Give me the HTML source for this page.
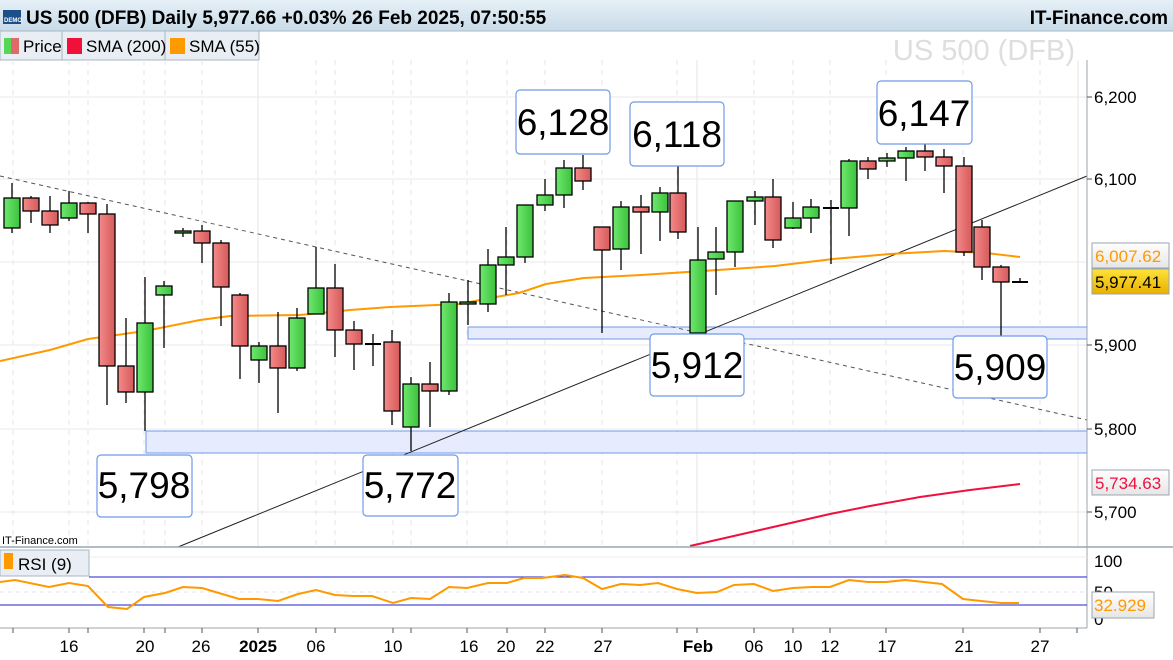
<!DOCTYPE html>
<html><head><meta charset="utf-8"><style>
html,body{margin:0;padding:0;background:#fff;}
body{width:1173px;height:660px;overflow:hidden;position:relative;font-family:"Liberation Sans",Arial,sans-serif;}
svg{position:absolute;left:0;top:0;}
</style></head><body>
<svg width="1173" height="660" viewBox="0 0 1173 660" xmlns="http://www.w3.org/2000/svg" font-family="Liberation Sans, Arial, sans-serif">
<defs>
<linearGradient id="hdr" x1="0" y1="0" x2="0" y2="1"><stop offset="0" stop-color="#e6f0f7"/><stop offset="1" stop-color="#c8dbe8"/></linearGradient>
<linearGradient id="rd" x1="0" y1="0" x2="1" y2="0"><stop offset="0" stop-color="#f48a8a"/><stop offset="1" stop-color="#d65a5a"/></linearGradient>
<linearGradient id="gr" x1="0" y1="0" x2="1" y2="0"><stop offset="0" stop-color="#6ee86e"/><stop offset="1" stop-color="#3cc23c"/></linearGradient>
<linearGradient id="yel" x1="0" y1="0" x2="0" y2="1"><stop offset="0" stop-color="#ffe23a"/><stop offset="1" stop-color="#e8b000"/></linearGradient>
<linearGradient id="gbox" x1="0" y1="0" x2="0" y2="1"><stop offset="0" stop-color="#ffffff"/><stop offset="1" stop-color="#e6e6e6"/></linearGradient>
</defs>
<rect x="0" y="0" width="1173" height="31" fill="url(#hdr)"/>
<line x1="0" y1="31" x2="1173" y2="31" stroke="#a9bac6"/>
<rect x="3" y="10" width="18" height="14" fill="#1c4f8a"/>
<text x="4" y="22" font-size="6" fill="#fff" font-weight="bold">DEMO</text>
<text x="26" y="24" font-size="19" font-weight="bold" fill="#000">US 500 (DFB) Daily 5,977.66 +0.03% 26 Feb 2025, 07:50:55</text>
<text x="1168" y="24" font-size="19" font-weight="bold" fill="#000" text-anchor="end">IT-Finance.com</text>
<rect x="0" y="31" width="259" height="29" fill="#e8eef3" stroke="#a9b6c0"/>
<line x1="62" y1="31" x2="62" y2="60" stroke="#a9b6c0"/><line x1="165" y1="31" x2="165" y2="60" stroke="#a9b6c0"/>
<rect x="4" y="38" width="7" height="16" fill="#55d655"/><rect x="11" y="38" width="8" height="16" fill="#e06a6a"/>
<text x="23" y="52" font-size="17">Price</text>
<rect x="67" y="38" width="15" height="16" fill="#f0103a"/>
<text x="86" y="52" font-size="17">SMA (200)</text>
<rect x="170" y="38" width="15" height="16" fill="#ff9900"/>
<text x="189" y="52" font-size="17">SMA (55)</text>
<g stroke="#e6e6e6" stroke-dasharray="5,5">
<line x1="13" y1="60" x2="13" y2="546"/><line x1="69" y1="60" x2="69" y2="546"/><line x1="88" y1="60" x2="88" y2="546"/><line x1="144" y1="60" x2="144" y2="546"/><line x1="165" y1="60" x2="165" y2="546"/><line x1="202" y1="60" x2="202" y2="546"/><line x1="316" y1="60" x2="316" y2="546"/><line x1="335" y1="60" x2="335" y2="546"/><line x1="393" y1="60" x2="393" y2="546"/><line x1="411" y1="60" x2="411" y2="546"/><line x1="467" y1="60" x2="467" y2="546"/><line x1="507" y1="60" x2="507" y2="546"/><line x1="545" y1="60" x2="545" y2="546"/><line x1="602" y1="60" x2="602" y2="546"/><line x1="677" y1="60" x2="677" y2="546"/><line x1="754" y1="60" x2="754" y2="546"/><line x1="793" y1="60" x2="793" y2="546"/><line x1="830" y1="60" x2="830" y2="546"/><line x1="886" y1="60" x2="886" y2="546"/><line x1="963" y1="60" x2="963" y2="546"/><line x1="1040" y1="60" x2="1040" y2="546"/>
</g>
<g stroke="#e4e4e4"><line x1="258" y1="60" x2="258" y2="546"/><line x1="697" y1="60" x2="697" y2="546"/><line x1="1078" y1="60" x2="1078" y2="546"/></g>
<g stroke="#e8e8e8"><line x1="0" y1="97" x2="1087" y2="97"/><line x1="0" y1="179" x2="1087" y2="179"/><line x1="0" y1="262" x2="1087" y2="262"/><line x1="0" y1="345" x2="1087" y2="345"/><line x1="0" y1="429" x2="1087" y2="429"/><line x1="0" y1="512" x2="1087" y2="512"/></g>
<text x="1075" y="60" font-size="29" fill="#dedede" text-anchor="end">US 500 (DFB)</text>
<rect x="468" y="327" width="619" height="12" fill="#e6ecfd" stroke="#6f9ae8"/>
<rect x="146" y="431" width="941" height="22" fill="#e6ecfd" stroke="#6f9ae8"/>
<line x1="0" y1="176" x2="1087" y2="420" stroke="#555" stroke-dasharray="4,4"/>
<line x1="178" y1="547" x2="1087" y2="176" stroke="#222"/>
<polyline fill="none" stroke="#f01040" stroke-width="2" points="690,546 760,530 830,514 870,506 920,497 970,490 1020,484"/>
<polyline fill="none" stroke="#ff9900" stroke-width="2" points="0,361 50,350 88,339 145,331 200,320 230,316 300,315 350,310 390,307 460,304 490,298 519,293 546,284 584,278 641,275 718,270 775,266 833,259 890,254 944,251 986,253 1020,257"/>
<g stroke="#000" stroke-width="1.3">
<line x1="12" y1="183" x2="12" y2="233"/><rect x="4" y="198" width="16" height="30" fill="url(#gr)"/>
<line x1="31" y1="196" x2="31" y2="223"/><rect x="23" y="198" width="16" height="13" fill="url(#rd)"/>
<line x1="50" y1="196" x2="50" y2="233"/><rect x="42" y="211" width="16" height="14" fill="url(#rd)"/>
<line x1="69" y1="191" x2="69" y2="221"/><rect x="61" y="203" width="16" height="15" fill="url(#gr)"/>
<line x1="88" y1="202" x2="88" y2="233"/><rect x="80" y="203" width="16" height="11" fill="url(#rd)"/>
<line x1="107" y1="204" x2="107" y2="405"/><rect x="99" y="214" width="16" height="152" fill="url(#rd)"/>
<line x1="126" y1="318" x2="126" y2="403"/><rect x="118" y="366" width="16" height="26" fill="url(#rd)"/>
<line x1="145" y1="277" x2="145" y2="431"/><rect x="137" y="323" width="16" height="69" fill="url(#gr)"/>
<line x1="164" y1="281" x2="164" y2="348"/><rect x="156" y="286" width="16" height="9" fill="url(#gr)"/>
<line x1="183" y1="228" x2="183" y2="237"/><rect x="175" y="231" width="16" height="2" fill="url(#gr)"/>
<line x1="202" y1="225" x2="202" y2="263"/><rect x="194" y="231" width="16" height="12" fill="url(#rd)"/>
<line x1="221" y1="240" x2="221" y2="326"/><rect x="213" y="243" width="16" height="44" fill="url(#rd)"/>
<line x1="240" y1="293" x2="240" y2="379"/><rect x="232" y="295" width="16" height="51" fill="url(#rd)"/>
<line x1="259" y1="342" x2="259" y2="383"/><rect x="251" y="346" width="16" height="14" fill="url(#gr)"/>
<line x1="278" y1="312" x2="278" y2="413"/><rect x="270" y="346" width="16" height="22" fill="url(#rd)"/>
<line x1="297" y1="308" x2="297" y2="371"/><rect x="289" y="318" width="16" height="50" fill="url(#gr)"/>
<line x1="316" y1="247" x2="316" y2="314"/><rect x="308" y="288" width="16" height="26" fill="url(#gr)"/>
<line x1="335" y1="264" x2="335" y2="357"/><rect x="327" y="288" width="16" height="42" fill="url(#rd)"/>
<line x1="354" y1="321" x2="354" y2="370"/><rect x="346" y="330" width="16" height="14" fill="url(#rd)"/>
<line x1="373" y1="334" x2="373" y2="366"/><line x1="365" y1="344" x2="381" y2="344" stroke-width="2"/>
<line x1="392" y1="330" x2="392" y2="425"/><rect x="384" y="342" width="16" height="69" fill="url(#rd)"/>
<line x1="411" y1="377" x2="411" y2="451"/><rect x="403" y="384" width="16" height="43" fill="url(#gr)"/>
<line x1="430" y1="362" x2="430" y2="427"/><rect x="422" y="384" width="16" height="7" fill="url(#rd)"/>
<line x1="449" y1="293" x2="449" y2="395"/><rect x="441" y="302" width="16" height="89" fill="url(#gr)"/>
<line x1="468" y1="280" x2="468" y2="325"/><rect x="460" y="302" width="16" height="2" fill="url(#gr)"/>
<line x1="488" y1="249" x2="488" y2="312"/><rect x="480" y="265" width="16" height="39" fill="url(#gr)"/>
<line x1="506" y1="227" x2="506" y2="295"/><rect x="498" y="257" width="16" height="8" fill="url(#gr)"/>
<line x1="525" y1="205" x2="525" y2="263"/><rect x="517" y="205" width="16" height="52" fill="url(#gr)"/>
<line x1="545" y1="179" x2="545" y2="211"/><rect x="537" y="195" width="16" height="10" fill="url(#gr)"/>
<line x1="564" y1="160" x2="564" y2="208"/><rect x="556" y="168" width="16" height="27" fill="url(#gr)"/>
<line x1="583" y1="155" x2="583" y2="190"/><rect x="575" y="168" width="16" height="13" fill="url(#rd)"/>
<line x1="602" y1="227" x2="602" y2="333"/><rect x="594" y="227" width="16" height="23" fill="url(#rd)"/>
<line x1="621" y1="201" x2="621" y2="270"/><rect x="613" y="207" width="16" height="42" fill="url(#gr)"/>
<line x1="641" y1="195" x2="641" y2="254"/><rect x="633" y="207" width="16" height="5" fill="url(#rd)"/>
<line x1="660" y1="187" x2="660" y2="241"/><rect x="652" y="193" width="16" height="19" fill="url(#gr)"/>
<line x1="678" y1="163" x2="678" y2="239"/><rect x="670" y="193" width="16" height="39" fill="url(#rd)"/>
<line x1="698" y1="227" x2="698" y2="333"/><rect x="690" y="260" width="16" height="73" fill="url(#gr)"/>
<line x1="716" y1="227" x2="716" y2="295"/><rect x="708" y="252" width="16" height="7" fill="url(#gr)"/>
<line x1="735" y1="201" x2="735" y2="267"/><rect x="727" y="201" width="16" height="51" fill="url(#gr)"/>
<line x1="755" y1="191" x2="755" y2="225"/><rect x="747" y="197" width="16" height="4" fill="url(#gr)"/>
<line x1="773" y1="179" x2="773" y2="248"/><rect x="765" y="197" width="16" height="43" fill="url(#rd)"/>
<line x1="793" y1="202" x2="793" y2="229"/><rect x="785" y="218" width="16" height="10" fill="url(#gr)"/>
<line x1="811" y1="199" x2="811" y2="233"/><rect x="803" y="207" width="16" height="11" fill="url(#gr)"/>
<line x1="831" y1="200" x2="831" y2="264"/><line x1="823" y1="208" x2="839" y2="208" stroke-width="2"/>
<line x1="849" y1="159" x2="849" y2="236"/><rect x="841" y="161" width="16" height="47" fill="url(#gr)"/>
<line x1="868" y1="157" x2="868" y2="179"/><rect x="860" y="161" width="16" height="8" fill="url(#rd)"/>
<line x1="887" y1="153" x2="887" y2="167"/><rect x="879" y="158" width="16" height="3" fill="url(#gr)"/>
<line x1="906" y1="147" x2="906" y2="181"/><rect x="898" y="151" width="16" height="7" fill="url(#gr)"/>
<line x1="925" y1="143" x2="925" y2="171"/><rect x="917" y="151" width="16" height="6" fill="url(#rd)"/>
<line x1="944" y1="149" x2="944" y2="193"/><rect x="936" y="157" width="16" height="9" fill="url(#rd)"/>
<line x1="964" y1="157" x2="964" y2="256"/><rect x="956" y="166" width="16" height="86" fill="url(#rd)"/>
<line x1="982" y1="220" x2="982" y2="280"/><rect x="974" y="227" width="16" height="40" fill="url(#rd)"/>
<line x1="1001" y1="265" x2="1001" y2="339"/><rect x="993" y="267" width="16" height="15" fill="url(#rd)"/>
<line x1="1020" y1="278" x2="1020" y2="282"/><line x1="1012" y1="282" x2="1028" y2="282" stroke-width="2"/>
</g>
<g fill="#fff" stroke="#6f9ae8" stroke-width="1.2">
<rect x="516" y="90" width="94" height="64" rx="4"/>
<rect x="630" y="102" width="94" height="64" rx="4"/>
<rect x="877" y="81" width="95" height="63" rx="4"/>
<rect x="650" y="334" width="94" height="62" rx="4"/>
<rect x="953" y="336" width="94" height="62" rx="4"/>
<rect x="97" y="455" width="95" height="62" rx="4"/>
<rect x="363" y="455" width="95" height="61" rx="4"/>
</g>
<g font-size="37" fill="#000" text-anchor="middle">
<text x="563" y="135">6,128</text>
<text x="677" y="147">6,118</text>
<text x="924" y="126">6,147</text>
<text x="697" y="378">5,912</text>
<text x="1000" y="380">5,909</text>
<text x="144" y="498">5,798</text>
<text x="410" y="498">5,772</text>
</g>
<line x1="1087" y1="60" x2="1087" y2="628" stroke="#9aa6ae"/>
<g stroke="#555"><line x1="1087" y1="97" x2="1092" y2="97"/><line x1="1087" y1="179" x2="1092" y2="179"/><line x1="1087" y1="345" x2="1092" y2="345"/><line x1="1087" y1="429" x2="1092" y2="429"/><line x1="1087" y1="512" x2="1092" y2="512"/></g>
<g font-size="17" fill="#000">
<text x="1094" y="103">6,200</text><text x="1094" y="185">6,100</text><text x="1094" y="351">5,900</text><text x="1094" y="435">5,800</text><text x="1094" y="518">5,700</text>
</g>
<rect x="1092" y="243" width="77" height="25" fill="url(#gbox)" stroke="#9aa6ae"/>
<text x="1095" y="262" font-size="17" fill="#ff9900">6,007.62</text>
<rect x="1092" y="269" width="77" height="25" fill="url(#yel)" stroke="#9aa6ae"/>
<text x="1095" y="288" font-size="17" fill="#000">5,977.41</text>
<rect x="1092" y="470" width="77" height="25" fill="url(#gbox)" stroke="#9aa6ae"/>
<text x="1095" y="489" font-size="17" fill="#f01040">5,734.63</text>
<text x="2" y="544" font-size="11" fill="#000">IT-Finance.com</text>
<line x1="0" y1="547" x2="1173" y2="547" stroke="#9aa6ae" stroke-width="1.5"/>
<line x1="0" y1="557" x2="1087" y2="557" stroke="#eee"/>
<line x1="0" y1="592" x2="1087" y2="592" stroke="#e6e6e6" stroke-dasharray="4,4"/>
<rect x="0" y="550" width="89" height="26" fill="#e8eef3" stroke="#a9b6c0"/>
<rect x="4" y="553" width="9" height="16" fill="#ff9900"/>
<text x="18" y="570" font-size="17">RSI (9)</text>
<line x1="89" y1="577" x2="1087" y2="577" stroke="#2222cc"/>
<line x1="0" y1="605" x2="1087" y2="605" stroke="#2222cc"/>
<polyline fill="none" stroke="#ff9900" stroke-width="2" points="0,582 15,580 49,587 69,583 88,586 108,607 127,609 144,597 165,593 183,587 202,588 239,599 258,599 278,601 298,594 316,590 335,595 353,596 372,596 393,603 411,598 430,599 449,587 467,588 488,583 507,583 524,578 542,578 565,575 583,578 602,589 621,584 640,585 658,583 677,589 697,593 717,592 734,585 754,584 773,591 793,588 812,587 830,587 849,580 868,582 886,582 905,580 924,582 942,584 963,599 981,601 1001,603 1019,603"/>
<g font-size="17" fill="#000"><text x="1094" y="567">100</text><text x="1094" y="598">50</text><text x="1094" y="625">0</text></g>
<rect x="1092" y="592" width="62" height="26" fill="url(#gbox)" stroke="#9aa6ae"/>
<text x="1094" y="611" font-size="17" fill="#ff9900">32.929</text>
<line x1="0" y1="628" x2="1087" y2="628" stroke="#9aa6ae"/>
<g stroke="#555"><line x1="13" y1="628" x2="13" y2="633"/><line x1="69" y1="628" x2="69" y2="633"/><line x1="88" y1="628" x2="88" y2="633"/><line x1="144" y1="628" x2="144" y2="633"/><line x1="165" y1="628" x2="165" y2="633"/><line x1="202" y1="628" x2="202" y2="633"/><line x1="258" y1="628" x2="258" y2="633"/><line x1="316" y1="628" x2="316" y2="633"/><line x1="335" y1="628" x2="335" y2="633"/><line x1="393" y1="628" x2="393" y2="633"/><line x1="411" y1="628" x2="411" y2="633"/><line x1="467" y1="628" x2="467" y2="633"/><line x1="507" y1="628" x2="507" y2="633"/><line x1="545" y1="628" x2="545" y2="633"/><line x1="602" y1="628" x2="602" y2="633"/><line x1="677" y1="628" x2="677" y2="633"/><line x1="697" y1="628" x2="697" y2="633"/><line x1="754" y1="628" x2="754" y2="633"/><line x1="793" y1="628" x2="793" y2="633"/><line x1="830" y1="628" x2="830" y2="633"/><line x1="886" y1="628" x2="886" y2="633"/><line x1="963" y1="628" x2="963" y2="633"/><line x1="1040" y1="628" x2="1040" y2="633"/><line x1="1077" y1="628" x2="1077" y2="633"/></g>
<g font-size="17" fill="#000" text-anchor="middle">
<text x="69" y="652">16</text><text x="145" y="652">20</text><text x="201" y="652">26</text><text x="258" y="652" font-weight="bold">2025</text><text x="316" y="652">06</text><text x="393" y="652">10</text><text x="469" y="652">16</text><text x="506" y="652">20</text><text x="545" y="652">22</text><text x="603" y="652">27</text><text x="698" y="652" font-weight="bold">Feb</text><text x="754" y="652">06</text><text x="793" y="652">10</text><text x="830" y="652">12</text><text x="887" y="652">17</text><text x="964" y="652">21</text><text x="1040" y="652">27</text>
</g>
</svg>
</body></html>
